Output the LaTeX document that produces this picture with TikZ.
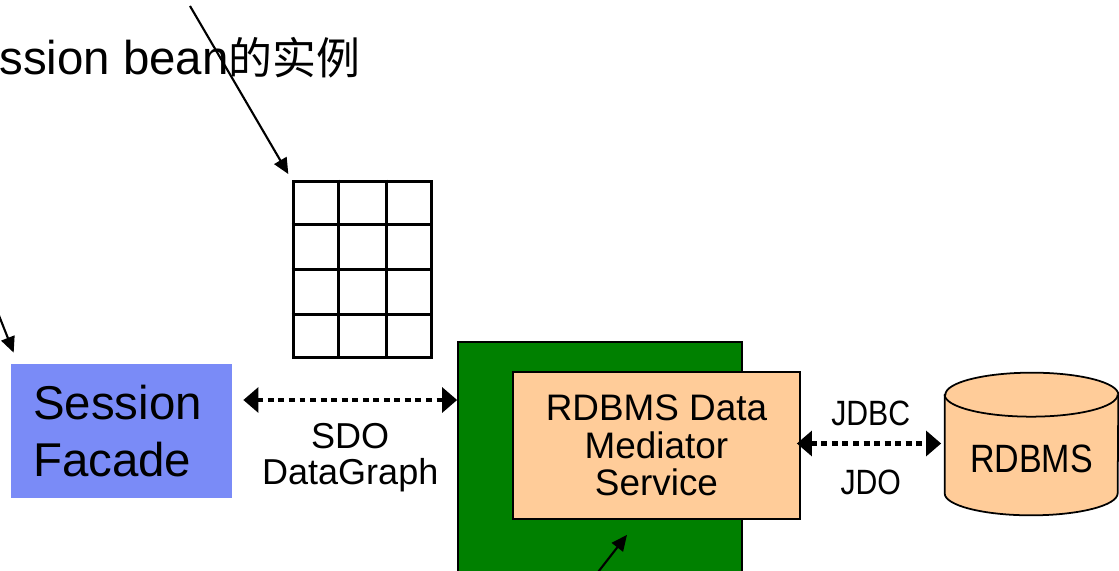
\documentclass[tikz,border=0pt]{standalone}
\usepackage{fontspec}
\setmainfont{Liberation Sans}
\newfontfamily\cjk{Noto Sans CJK SC}
\newfontfamily\narrow[FakeStretch=0.86]{Liberation Sans}
\usetikzlibrary{arrows.meta,calc,positioning}
\definecolor{facadeblue}{RGB}{122,139,247}
\definecolor{platgreen}{RGB}{0,128,0}
\definecolor{peach}{RGB}{255,204,153}
\begin{document}
\begin{tikzpicture}[x = 0.02cm, y = -0.02cm, > = {Triangle[length=9pt,width=8pt]},
	box/.style = {draw, line width=1pt, inner sep=0pt},
	pointer/.style = {->, line width=1.2pt},
	dotlink/.style = {line width=2.3pt, dash pattern=on 3.4pt off 2.6pt,
		{Triangle[length=8.5pt,width=14pt]}-{Triangle[length=8.5pt,width=14pt]}}]
	\useasboundingbox (0,0) rectangle (1119,571);
	% Chữ phía trên
	\node[anchor=base west, inner sep=0pt, font=\fontsize{27}{32}\selectfont] (caption) at (-1,75)
		{ssion bean{\cjk\fontsize{25}{30}\selectfont 的实例}};
	% Bảng lưới
	\node[draw, line width=1.7pt, minimum width=2.78cm, minimum height=3.54cm, inner sep=0pt] (table) at (362.5,269.5) {};
	\foreach \i in {1,2}
	\draw[line width=1.7pt] ($(table.north west)!\i/3!(table.north east)$) -- ($(table.south west)!\i/3!(table.south east)$);
	\foreach \j in {1,2,3}
	\draw[line width=1.7pt] ($(table.north west)!\j/4!(table.south west)$) -- ($(table.north east)!\j/4!(table.south east)$);
	% Các khối
	\node[fill=facadeblue, minimum width=4.42cm, minimum height=2.68cm, text width=3.54cm, align=left,
		font=\fontsize{27}{32}\selectfont] (facade) at (121.5,431) {Session\\Facade};
	\node[box, fill=platgreen, minimum width=5.68cm, minimum height=4.8cm] (platform) at (600,462) {};
	\node[box, fill=peach, minimum width=5.74cm, minimum height=2.94cm, align=center,
		font=\fontsize{21}{21.2}\selectfont] (mediator) at (656.5,445.5) {RDBMS Data\\Mediator\\Service};
	% Hình trụ cơ sở dữ liệu
	\node[minimum width=3.46cm, minimum height=2.84cm, inner sep=0pt] (db) at (1031.5,444) {};
	\filldraw[fill=peach, line width=1pt] ($(db.north west)+(0,22)$) -- ($(db.south west)+(0,-22)$)
		arc[start angle=180, end angle=360, x radius=1.73cm, y radius=0.44cm] -- ($(db.north east)+(0,22)$)
		arc[start angle=0, end angle=180, x radius=1.73cm, y radius=0.44cm] -- cycle;
	\draw[line width=1pt] ($(db.north west)+(0,22)$) arc[start angle=180, end angle=360, x radius=1.73cm, y radius=0.44cm];
	\node[font=\narrow\fontsize{22.5}{24}\selectfont] (dbname) at ($(db.center)+(0,15)$) {RDBMS};
	% Mũi tên chấm
	\coordinate (sdo) at ($(facade.east)+(11,-31)$);
	\draw[dotlink] (sdo) -- (sdo -| platform.west)
		node[midway, below=12pt, inner sep=0pt, align=center, font=\fontsize{20.5}{20.5}\selectfont] (graph) {SDO\\DataGraph};
	\draw[dotlink, shorten >=2pt] ($(mediator.east)+(-4,-2)$) -- ($(mediator.east -| db.west)+(0,-2)$)
		node[midway, above=9pt, inner sep=0pt, font=\narrow\fontsize{20}{22}\selectfont] (jdbc) {JDBC}
		node[midway, below=14pt, inner sep=0pt, font=\narrow\fontsize{20}{22}\selectfont] (jdo) {JDO};
	% Mũi tên chỉ
	\coordinate (src) at (190,6);
	\coordinate (ext) at (-4,308);
	\coordinate (low) at (595,576);
	\draw[pointer, shorten >=3.6pt] (src) -- (table.north west);
	\draw[pointer] (ext) -- ($(facade.north west)+(3,-11)$);
	\draw[pointer] (low) -- ($(mediator.south)+(-29.5,15)$);
\end{tikzpicture}
\end{document}
